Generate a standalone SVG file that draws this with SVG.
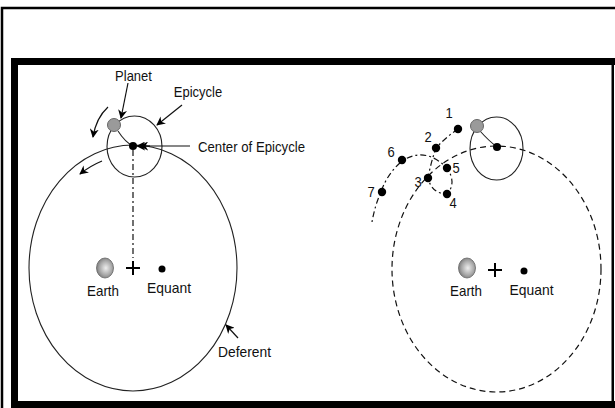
<svg xmlns="http://www.w3.org/2000/svg" width="615" height="408" viewBox="0 0 615 408">
<style>
.t{font-family:"Liberation Sans",Arial,sans-serif;font-size:13px;fill:#111}
.m{text-anchor:middle}
.ln{fill:none;stroke:#222;stroke-width:1.1}
.dd{fill:none;stroke:#111;stroke-width:1.2;stroke-dasharray:6,3,2,3}
.ds{fill:none;stroke:#111;stroke-width:1.2;stroke-dasharray:6,4}
.dot{fill:#000}
.pl{fill:#9a9a9a;stroke:#666;stroke-width:1}
.ar{fill:none;stroke:#111;stroke-width:1.2;marker-end:url(#ah)}
</style>
<defs>
<marker id="ah" viewBox="0 0 10 10" refX="9" refY="5" markerWidth="9" markerHeight="9" markerUnits="userSpaceOnUse" orient="auto">
<path d="M0,0 L10,5 L0,10 L3,5 Z" fill="#000"/>
</marker>
<radialGradient id="eg" cx="0.55" cy="0.5" r="0.6">
<stop offset="0" stop-color="#eeeeee"/>
<stop offset="0.6" stop-color="#a8a8a8"/>
<stop offset="1" stop-color="#707070"/>
</radialGradient>
</defs>
<rect width="615" height="408" fill="#fff"/>
<g id="frame">
<path d="M2,408 V8 H615" fill="none" stroke="#000" stroke-width="2.5"/>
<rect x="11" y="58" width="604" height="7" fill="#000"/>
<rect x="11" y="58" width="7" height="350" fill="#000"/>
<rect x="11" y="401" width="604" height="7" fill="#000"/>
<rect x="611.5" y="58" width="2.5" height="350" fill="#000"/>
</g>
<g id="left-deferent"><ellipse cx="133" cy="268" rx="104" ry="123" class="ln"/></g>
<g id="left-epicycle"><ellipse cx="134.5" cy="146.5" rx="27.5" ry="30.5" class="ln"/></g>
<g id="connectors">
<path d="M118,131 Q125,142 133,146" class="ln"/>
<path d="M133,150 V258" class="dd"/>
<path d="M128,83 L121,118" class="ar"/>
<path d="M182,105 L157,125" class="ar"/>
<path d="M190,146 L137,146" class="ar"/>
<path d="M150,146 L140,146" class="ar"/>
<path d="M108,107 Q96,118 93,137" class="ar"/>
<path d="M102,161 Q90,166 80,174" class="ar"/>
<path d="M238,338 L226,325" class="ar"/>
<path d="M480,131 Q489,141 497,147" class="ln"/>
<path d="M458,129 Q446,137 436,148 Q431,162 428,178 Q432,194 447,194 Q457,183 447,168 Q425,146 402,161 Q387,174 381,192 Q375,205 372,222" class="dd"/>
</g>
<g id="planet-left"><circle cx="114" cy="125" r="6.5" class="pl"/></g>
<g id="center-left"><circle cx="133" cy="146" r="4" class="dot"/></g>
<g id="earth-left"><ellipse cx="105" cy="268" rx="8.5" ry="10" fill="url(#eg)" stroke="#666" stroke-width="0.8"/></g>
<g id="mean-left"><path d="M126,268 H140 M133,261 V275" stroke="#000" stroke-width="2"/></g>
<g id="equant-left"><circle cx="162" cy="269" r="3.5" class="dot"/></g>
<g id="labels-left">
<text class="t m" transform="translate(133.5,81) scale(1,1.15)">Planet</text>
<text class="t m" transform="translate(198,97) scale(1,1.15)">Epicycle</text>
<text class="t" transform="translate(198,152) scale(1,1.15)" textLength="107" lengthAdjust="spacingAndGlyphs">Center of Epicycle</text>
<text class="t m" transform="translate(103,296) scale(1,1.15)" textLength="32" lengthAdjust="spacingAndGlyphs">Earth</text>
<text class="t m" transform="translate(169,293) scale(1,1.15)" textLength="44" lengthAdjust="spacingAndGlyphs">Equant</text>
<text class="t m" transform="translate(244.5,357) scale(1,1.15)" textLength="53" lengthAdjust="spacingAndGlyphs">Deferent</text>
</g>
<g id="right-deferent"><ellipse cx="496.5" cy="269" rx="104.5" ry="123" class="ds"/></g>
<g id="right-epicycle"><ellipse cx="496.5" cy="148.5" rx="26.5" ry="31.5" class="ln"/></g>
<g id="planet-right"><circle cx="477" cy="126" r="6.5" class="pl"/></g>
<g id="center-right"><circle cx="497" cy="147" r="4" class="dot"/></g>
<g id="earth-right"><ellipse cx="467" cy="268" rx="8.5" ry="10" fill="url(#eg)" stroke="#666" stroke-width="0.8"/></g>
<g id="mean-right"><path d="M488,270 H502 M495,263 V277" stroke="#000" stroke-width="2"/></g>
<g id="equant-right"><circle cx="524" cy="271" r="3.5" class="dot"/></g>
<g id="labels-right">
<text class="t m" transform="translate(466,296) scale(1,1.15)" textLength="32" lengthAdjust="spacingAndGlyphs">Earth</text>
<text class="t m" transform="translate(531.5,295) scale(1,1.15)" textLength="44" lengthAdjust="spacingAndGlyphs">Equant</text>
</g>
<g id="positions">
<circle cx="458" cy="129" r="4.2" class="dot"/>
<circle cx="436" cy="148" r="4.2" class="dot"/>
<circle cx="428" cy="178" r="4.2" class="dot"/>
<circle cx="447" cy="194" r="4.2" class="dot"/>
<circle cx="447" cy="168" r="4.2" class="dot"/>
<circle cx="402" cy="160" r="4.2" class="dot"/>
<circle cx="382" cy="192" r="4.2" class="dot"/>
<text class="t m" transform="translate(449,118) scale(1,1.15)">1</text>
<text class="t m" transform="translate(428,142) scale(1,1.15)">2</text>
<text class="t m" transform="translate(418,187) scale(1,1.15)">3</text>
<text class="t m" transform="translate(453,208) scale(1,1.15)">4</text>
<text class="t m" transform="translate(456,173) scale(1,1.15)">5</text>
<text class="t m" transform="translate(391,157) scale(1,1.15)">6</text>
<text class="t m" transform="translate(371,197) scale(1,1.15)">7</text>
</g>
</svg>
